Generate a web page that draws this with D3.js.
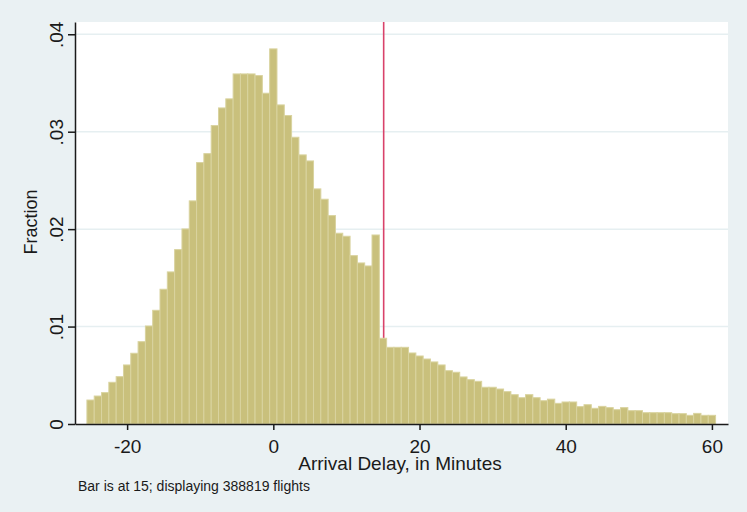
<!DOCTYPE html>
<html>
<head>
<meta charset="utf-8">
<script src="https://cdn.jsdelivr.net/npm/d3@7"></script>
<style>
  body { margin: 0; background: #eaf1f3; }
  svg { display: block; }
  .axis text { font-family: "Liberation Sans Narrow", "Arial Narrow", "Liberation Sans", sans-serif; fill: #1a1a1a; }
</style>
</head>
<body>
<div id="chart"></div>
<script>
// bin centers (minutes) and the fraction of flights in each bin
var delayBins = [-25, -24, -23, -22, -21, -20, -19, -18, -17, -16, -15, -14, -13, -12, -11, -10,
    -9, -8, -7, -6, -5, -4, -3, -2, -1, 0, 1, 2, 3, 4, 5, 6, 7, 8, 9, 10, 11, 12, 13, 14, 15,
    16, 17, 18, 19, 20, 21, 22, 23, 24, 25, 26, 27, 28, 29, 30, 31, 32, 33, 34, 35, 36, 37,
    38, 39, 40, 41, 42, 43, 44, 45, 46, 47, 48, 49, 50, 51, 52, 53, 54, 55, 56, 57, 58, 59, 60];
var fractions = [.00246, .00287, .00322, .00428, .00486, .00606, .00726, .00845, .01006, .01167,
    .01383, .01561, .01790, .02002, .02290, .02683, .02775, .03063, .03244, .03337,
    .03593, .03593, .03593, .03576, .03395, .0385, .03275, .03166, .02943, .02762,
    .02700, .02413, .02307, .02139, .01958, .01927, .01728, .01653, .01622, .01940,
    .00880, .00787, .00787, .00787, .00729, .00698, .00667, .00637, .00606, .00547,
    .00531, .00483, .00455, .00438, .00377, .00377, .00359, .00332, .00301, .00270,
    .00301, .00270, .00239, .00255, .00212, .00226, .00226, .00178, .00198, .00161,
    .00181, .00168, .00147, .00168, .00137, .00137, .00116, .00116, .00116, .00116,
    .00106, .00106, .00089, .00109, .00089, .00089];
var xTicks = [-20, 0, 20, 40, 60];
var yTicks = [0, .01, .02, .03, .04];
var yTickLabels = ["0", ".01", ".02", ".03", ".04"];
var markerAt = 15;
var flightCount = 388819;

var width = 747, height = 512;
var plotLeft = 75, plotRight = 728, plotTop = 22, plotBottom = 424;

var svg = d3.select("#chart").append("svg")
    .attr("width", width)
    .attr("height", height);

svg.append("rect")
    .attr("width", width).attr("height", height)
    .attr("fill", "#eaf1f3");

// plot region
svg.append("rect")
    .attr("x", plotLeft).attr("y", plotTop)
    .attr("width", plotRight - plotLeft).attr("height", plotBottom - plotTop)
    .attr("fill", "#ffffff");

var x = d3.scaleLinear().domain([-27.13, 62.2]).range([plotLeft, plotRight]);
var y = d3.scaleLinear().domain([0, 0.04126]).range([plotBottom, plotTop]);

// gridlines
svg.append("g").selectAll("line")
    .data(yTicks.slice(1))
    .enter().append("line")
    .attr("x1", plotLeft).attr("x2", plotRight)
    .attr("y1", function(d) { return y(d); })
    .attr("y2", function(d) { return y(d); })
    .attr("stroke", "#e6eff1")
    .attr("stroke-width", 1.5);

// marker line at 15 minutes
svg.append("line")
    .attr("x1", x(markerAt) + 0.7).attr("x2", x(markerAt) + 0.7)
    .attr("y1", plotTop).attr("y2", plotBottom)
    .attr("stroke", "#d9426a")
    .attr("stroke-width", 1.6);

// bars
var bars = delayBins.map(function(b, i) { return { bin: b, value: fractions[i] }; });
svg.append("g").selectAll("rect")
    .data(bars)
    .enter().append("rect")
    .attr("x", function(d) { return x(d.bin - 0.5); })
    .attr("width", function(d) { return x(d.bin + 0.5) - x(d.bin - 0.5); })
    .attr("y", function(d) { return y(d.value); })
    .attr("height", function(d) { return y(0) - y(d.value); })
    .attr("fill", "#c9c07c")
    .attr("stroke", "#d9d39f")
    .attr("stroke-width", 1);

// x axis
var xAxis = svg.append("g")
    .attr("class", "axis")
    .attr("transform", "translate(0," + plotBottom + ")")
    .call(d3.axisBottom(x).tickValues(xTicks)
        .tickFormat(function(d) { return String(d); })
        .tickSize(6).tickPadding(10).tickSizeOuter(0));
xAxis.select(".domain").attr("stroke", "#1a1a1a").attr("stroke-width", 1.5);
xAxis.selectAll(".tick line").attr("stroke", "#1a1a1a").attr("stroke-width", 1.5);
xAxis.selectAll("text").attr("font-size", "19px");

// y axis
var yAxis = svg.append("g")
    .attr("class", "axis")
    .attr("transform", "translate(" + plotLeft + ",0)")
    .call(d3.axisLeft(y).tickValues(yTicks)
        .tickFormat(function(d, i) { return yTickLabels[i]; })
        .tickSize(7).tickSizeOuter(0));
yAxis.select(".domain").attr("stroke", "#1a1a1a").attr("stroke-width", 1.5);
yAxis.selectAll(".tick line").attr("stroke", "#1a1a1a").attr("stroke-width", 1.5);
yAxis.selectAll("text")
    .attr("font-size", "19px")
    .attr("transform", "translate(-12,0) rotate(-90)")
    .attr("x", 0).attr("y", 0).attr("dy", "0")
    .attr("text-anchor", "middle");

// titles
var fontNarrow = "'Liberation Sans Narrow', 'Arial Narrow', 'Liberation Sans', sans-serif";
svg.append("text")
    .attr("x", 400).attr("y", 470)
    .attr("text-anchor", "middle")
    .attr("font-family", fontNarrow)
    .attr("font-size", "19px")
    .attr("fill", "#1a1a1a")
    .text("Arrival Delay, in Minutes");

svg.append("text")
    .attr("transform", "translate(37,222) rotate(-90)")
    .attr("text-anchor", "middle")
    .attr("font-family", fontNarrow)
    .attr("font-size", "18px")
    .attr("fill", "#1a1a1a")
    .text("Fraction");

svg.append("text")
    .attr("x", 78).attr("y", 491)
    .attr("font-family", fontNarrow)
    .attr("font-size", "14px")
    .attr("fill", "#1a1a1a")
    .text("Bar is at " + markerAt + "; displaying " + flightCount + " flights");
</script>
</body>
</html>
